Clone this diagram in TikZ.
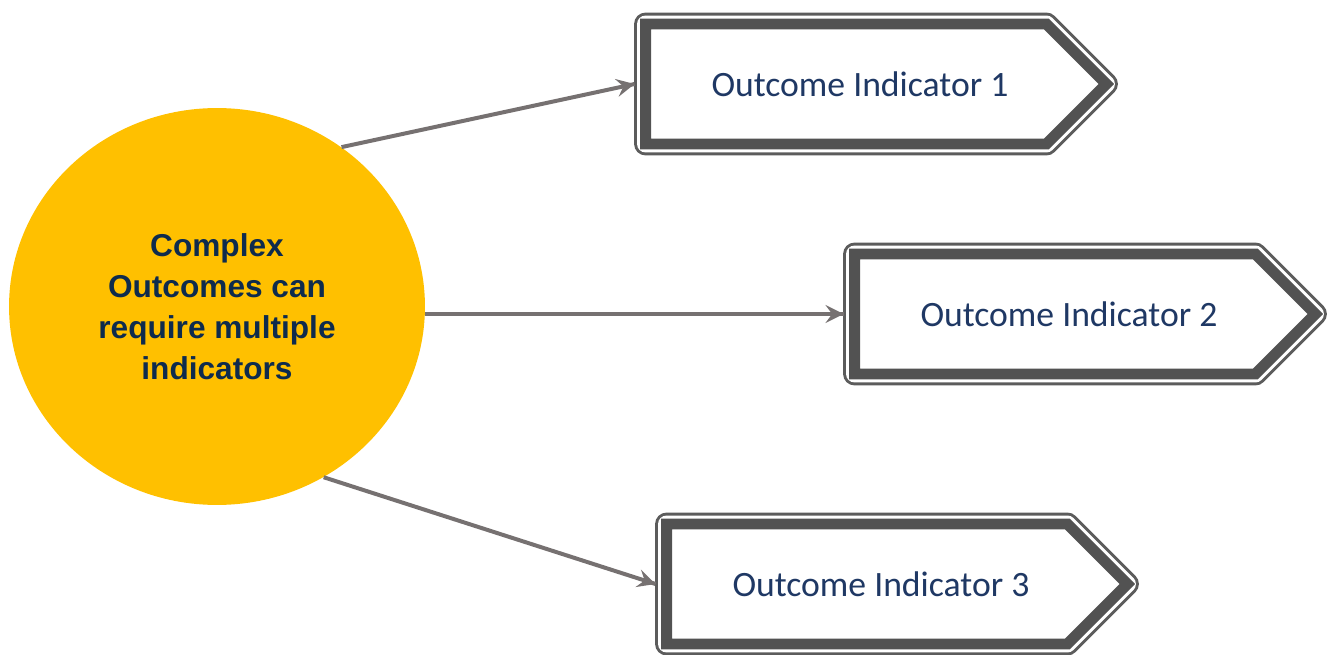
\documentclass[tikz,border=0pt]{standalone}
\usepackage{fontspec}
\setmainfont{Carlito}
\newfontfamily\hubfont{Liberation Sans}
\usetikzlibrary{arrows,decorations.markings,shapes.geometric,shapes.symbols}

\definecolor{hubgold}{RGB}{255,192,0}
\definecolor{hubtext}{RGB}{14,43,77}
\definecolor{indtext}{RGB}{31,56,100}
\definecolor{bandgray}{RGB}{82,82,82}
\definecolor{rimgray}{RGB}{92,92,92}
\definecolor{linkgray}{RGB}{118,113,113}

\tikzset{
  hub/.style={ellipse, fill=hubgold, inner sep=0pt,
    minimum width=8.32cm, minimum height=7.94cm, align=center,
    text=hubtext, font=\hubfont\bfseries\fontsize{18}{23.3}\selectfont},
  indicator/.style={signal, signal to=east, signal pointer angle=90,
    minimum width=9.22cm, minimum height=2.4cm, inner sep=0pt,
    preaction={draw=rimgray, line width=13.04pt, line join=round},
    preaction={draw=white, line width=9.64pt, line join=round},
    fill=white, draw=bandgray, line width=6.24pt,
    text=indtext, font=\fontsize{20.3}{24}\selectfont},
  link/.style={draw=linkgray, line width=2.27pt,
    decoration={markings,mark=at position 1 with
    {\arrow[scale=1.35,>=stealth]{>}}},postaction={decorate}}
}

\begin{document}
\begin{tikzpicture}[x=0.02cm,y=-0.02cm]
\useasboundingbox (0,0) rectangle (1333,655);
\node[hub] (hub) at (217,306.5) {Complex\\Outcomes can\\require multiple\\indicators};
\node[indicator] (ind1) at (846,84) {\hspace*{0.56cm}Outcome Indicator 1};
\node[indicator] (ind2) at (1055,314) {\hspace*{0.56cm}Outcome Indicator 2};
\node[indicator] (ind3) at (867,584) {\hspace*{0.56cm}Outcome Indicator 3};
\draw[link] (hub.52) -- ([xshift=-0.11cm]ind1.west);
\draw[link] (hub.east |- ind2.west) -- ([xshift=-0.11cm]ind2.west);
\draw[link] (hub.-58) -- ([xshift=-0.11cm]ind3.west);
\end{tikzpicture}
\end{document}
